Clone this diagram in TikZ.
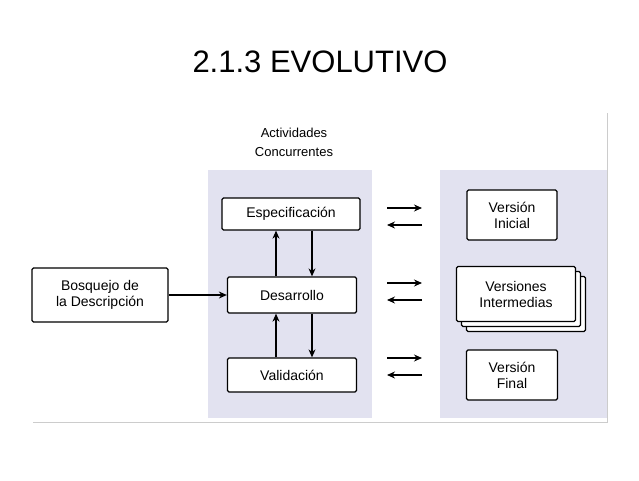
\documentclass[tikz,border=0pt]{standalone}
\usepackage{fontspec}
\setmainfont{Liberation Sans}
\usetikzlibrary{arrows.meta}
\definecolor{pan}{RGB}{226,226,240}
\begin{document}
\begin{tikzpicture}[x=1pt,y=-1pt,
  bx/.style={draw=black,line width=1.3pt,fill=white,rounded corners=1.5pt,font=\fontsize{14}{16}\selectfont,align=center,inner sep=0pt},
  ar/.style={-{Stealth[length=8pt,width=7pt]},line width=1.1pt}]
\useasboundingbox (0,0) rectangle (639,480);
\fill[white] (0,0) rectangle (639,480);
\node (title) at (320,62) {\fontsize{31}{34}\selectfont 2.1.3 EVOLUTIVO};
\fill[pan] (208,170) rectangle (372,418);
\fill[pan] (440,170) rectangle (607,418);
\draw[gray!40] (33,422) -- (607,422) -- (607,113);
\node (act) at (294,142) [align=center,font=\fontsize{13}{19}\selectfont] {Actividades\\Concurrentes};
\node[bx,minimum width=136,minimum height=54] (bos) at (100,295) {Bosquejo de\\la Descripción};
\node[bx,minimum width=138,minimum height=32] (esp) at (291,214) {Especificación};
\node[bx,minimum width=129,minimum height=36] (des) at (292,295) {Desarrollo};
\node[bx,minimum width=129,minimum height=34] (val) at (292,375) {Validación};
\node[bx,minimum width=90,minimum height=50] (vi) at (512,215) {Versión\\Inicial};
\node[bx,minimum width=119,minimum height=55] (vm2) at (526,304) {};
\node[bx,minimum width=119,minimum height=55] (vm1) at (521,299) {};
\node[bx,minimum width=119,minimum height=55] (vm) at (516,294) {Versiones\\Intermedias};
\node[bx,minimum width=91,minimum height=50] (vf) at (512,375) {Versión\\Final};
\draw[ar] (bos) -- (des);
\draw[ar] (des.north -| 276,0) -- (esp.south -| 276,0);
\draw[ar] (esp.south -| 312,0) -- (des.north -| 312,0);
\draw[ar] (val.north -| 276,0) -- (des.south -| 276,0);
\draw[ar] (des.south -| 312,0) -- (val.north -| 312,0);
\foreach \n/\y in {a/208,b/283,c/358}{
  \coordinate (l\n) at (387,\y); \coordinate (r\n) at (422,\y);
  \coordinate (l\n2) at (387,\y+17); \coordinate (r\n2) at (422,\y+17);
  \draw[ar] (l\n) -- (r\n); \draw[ar] (r\n2) -- (l\n2);}
\end{tikzpicture}
\end{document}
